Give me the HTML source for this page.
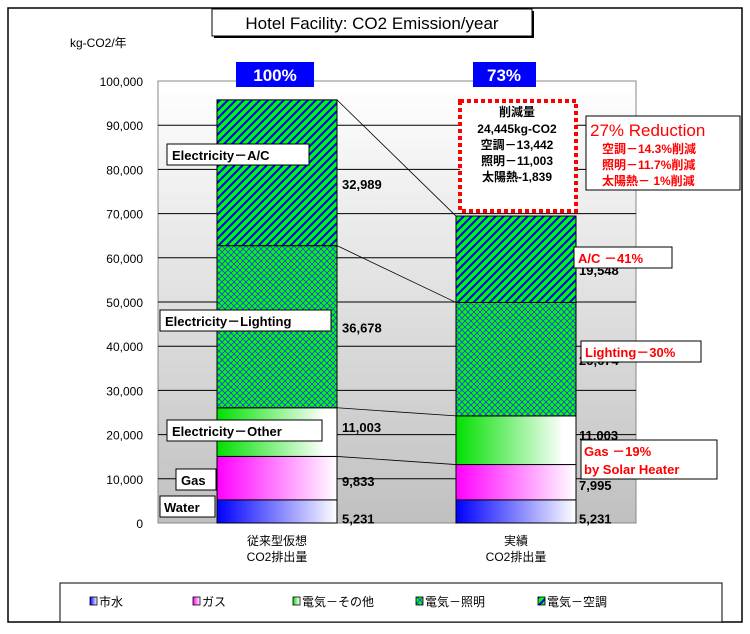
<!DOCTYPE html>
<html><head><meta charset="utf-8"><style>
body{margin:0;background:#fff;}
svg text{font-family:"Liberation Sans","Noto Sans CJK JP",sans-serif;}
</style></head><body>
<svg id="c" width="750" height="629" viewBox="0 0 750 629">
<defs>
<linearGradient id="bg" x1="0" y1="0" x2="0" y2="1"><stop offset="0" stop-color="#ffffff"/><stop offset="1" stop-color="#c0c0c0"/></linearGradient>
<linearGradient id="gW" x1="0" x2="1"><stop offset="0" stop-color="#0000ff"/><stop offset="1" stop-color="#ffffff"/></linearGradient>
<linearGradient id="gG" x1="0" x2="1"><stop offset="0" stop-color="#ff00ff"/><stop offset="1" stop-color="#ffffff"/></linearGradient>
<linearGradient id="gO" x1="0" x2="1"><stop offset="0" stop-color="#00e000"/><stop offset="0.9" stop-color="#ffffff"/></linearGradient>
<pattern id="pAC" width="8" height="8" patternUnits="userSpaceOnUse"><rect width="8" height="8" fill="#00ff00"/><path d="M-2,10 L10,-2 M-2,2 L2,-2 M6,10 L10,6" stroke="#0000ff" stroke-width="2.2"/></pattern>
<pattern id="pL" width="6" height="6" patternUnits="userSpaceOnUse"><rect width="6" height="6" fill="#00ff00"/><path d="M0,0 L6,6 M6,0 L0,6" stroke="#3030ff" stroke-width="0.8"/></pattern>
</defs>
<rect x="8" y="8" width="734" height="614" fill="#fff" stroke="#000" stroke-width="1.5"/>
<rect x="158" y="81" width="478" height="442" fill="url(#bg)" stroke="#888"/>
<g id="grid"></g><g id="axis"></g><g id="bars"></g><g id="links"></g><g id="vals"></g>
<rect x="212" y="9" width="320" height="27" fill="#fff" stroke="#000"/>
<line x1="214" y1="37" x2="534" y2="37" stroke="#000" stroke-width="2"/><line x1="533" y1="11" x2="533" y2="37" stroke="#000" stroke-width="2"/>
<text x="372" y="29" font-size="17" text-anchor="middle">Hotel Facility: CO2 Emission/year</text>
<text x="70" y="47" font-size="12">kg-CO2/年</text>
<rect x="236" y="62" width="78" height="25" fill="#0000ff"/>
<text x="275" y="81" font-size="17" fill="#fff" text-anchor="middle" font-weight="bold">100%</text>
<rect x="473" y="62" width="63" height="25" fill="#0000ff"/>
<text x="504" y="81" font-size="17" fill="#fff" text-anchor="middle" font-weight="bold">73%</text>
<g>
<rect x="460" y="101" width="116" height="110" fill="#fff" stroke="#f00" stroke-width="4" stroke-dasharray="4,3"/>
<text font-size="12" font-weight="bold" text-anchor="middle"><tspan x="517" y="116">削減量</tspan><tspan x="517" y="133">24,445kg-CO2</tspan><tspan x="517" y="149">空調－13,442</tspan><tspan x="517" y="165">照明－11,003</tspan><tspan x="517" y="181">太陽熱-1,839</tspan></text></g>
<g>
<rect x="586" y="116" width="154" height="74" fill="#fff" stroke="#000"/>
<text x="590" y="136" font-size="17" fill="#f00">27% Reduction</text>
<text font-size="12" fill="#f00" font-weight="bold"><tspan x="602" y="153">空調－14.3%削減</tspan><tspan x="602" y="169">照明－11.7%削減</tspan><tspan x="602" y="185">太陽熱－ 1%削減</tspan></text></g>
<g font-size="13" font-weight="bold">
<rect x="167" y="144" width="142" height="21" fill="#fff" stroke="#000"/><text x="172" y="160">Electricity－A/C</text>
<rect x="160" y="310" width="171" height="21" fill="#fff" stroke="#000"/><text x="165" y="326">Electricity－Lighting</text>
<rect x="167" y="420" width="155" height="21" fill="#fff" stroke="#000"/><text x="172" y="436">Electricity－Other</text>
<rect x="176" y="469" width="40" height="21" fill="#fff" stroke="#000"/><text x="181" y="485">Gas</text>
<rect x="160" y="496" width="55" height="21" fill="#fff" stroke="#000"/><text x="164" y="512">Water</text>
<g fill="#f00">
<rect x="574" y="247" width="98" height="21" fill="#fff" stroke="#000"/><text x="578" y="263">A/C －41%</text>
<rect x="581" y="341" width="120" height="21" fill="#fff" stroke="#000"/><text x="585" y="357">Lighting－30%</text>
<rect x="581" y="440" width="136" height="39" fill="#fff" stroke="#000"/><text x="584" y="456">Gas －19%</text><text x="584" y="474">by Solar Heater</text></g></g>
<text font-size="12" text-anchor="middle"><tspan x="277" y="545">従来型仮想</tspan><tspan x="277" y="561">CO2排出量</tspan><tspan x="516" y="545">実績</tspan><tspan x="516" y="561">CO2排出量</tspan></text>
<g>
<rect x="60" y="583" width="662" height="39" fill="#fff" stroke="#000"/>
<g font-size="12" id="leg"></g></g>
</svg>
<script>
const categories=["従来型仮想","実績"];
const water=[5231,5231];
const gas=[9833,7995];
const other=[11003,11003];
const lighting=[36678,25674];
const ac=[32989,19548];
const yTicks=[0,10000,20000,30000,40000,50000,60000,70000,80000,90000,100000];
const legendLabels=["市水","ガス","電気－その他","電気－照明","電気－空調"];
const NS="http://www.w3.org/2000/svg";
const y0=523,yTop=81,ymax=100000;
const y=v=>y0-(v/ymax)*(y0-yTop);
const barX=[217,456],bw=120;
function mk(tag,at,par){const e=document.createElementNS(NS,tag);for(const k in at)e.setAttribute(k,at[k]);document.getElementById(par).appendChild(e);return e;}
yTicks.forEach(t=>{
 if(t>0&&t<ymax){const l=mk('line',{x1:158,x2:636,y1:y(t),y2:y(t),stroke:'#000'},'grid');
 
 }
 const tx=mk('text',{x:143,y:y(t)+5,'font-size':12,'text-anchor':'end'},'axis');tx.textContent=t.toLocaleString('en-US');
 
 
});
const series=[water,gas,other,lighting,ac];
const fills=['url(#gW)','url(#gG)','url(#gO)','url(#pL)','url(#pAC)'];
const names=['water','gas','elec-other','elec-lighting','elec-ac'];
const tops=[[],[]];
categories.forEach((c,i)=>{let cum=0;series.forEach((s,j)=>{const a=cum;cum+=s[i];
 const r=mk('rect',{x:barX[i],y:y(cum),width:bw,height:y(a)-y(cum),fill:fills[j],stroke:'#000'},'bars');
 
 
 tops[i][j]=cum;
 const tv=mk('text',{x:barX[i]+bw+(i==0?5:3),y:(y(a)+y(cum))/2+ (j==0?12:j==1?8:j==4?16:j==2?0:6),'font-size':13,'font-weight':'bold'},'vals');
 tv.textContent=s[i].toLocaleString('en-US');
 
 
});});
[1,2,3,4].forEach(j=>{const l=mk('line',{x1:barX[0]+bw,y1:y(tops[0][j]),x2:barX[1],y2:y(tops[1][j]),stroke:'#000','stroke-width':0.8},'links');
 
 });
const lf=['url(#gW)','url(#gG)','url(#gO)','url(#pL)','url(#pAC)'];
const lx=[90,193,293,416,538];
legendLabels.forEach((t,i)=>{const r=mk('rect',{x:lx[i],y:597,width:7,height:8,fill:lf[i],stroke:'#000','stroke-width':0.8},'leg');
 
 
 const tx=mk('text',{x:lx[i]+9,y:606},'leg');tx.textContent=t;
 
 });
</script>
</body></html>
